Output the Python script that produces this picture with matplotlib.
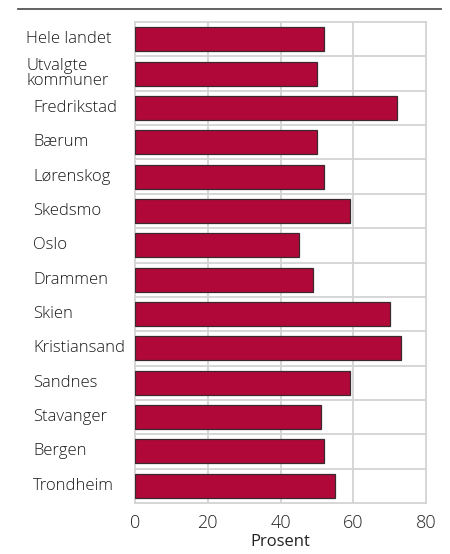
import matplotlib.pyplot as plt
import matplotlib.transforms as mtransforms
import numpy as np

plt.rcParams['font.family'] = ['Open Sans', 'DejaVu Sans']
plt.rcParams['font.weight'] = 'light'

categories = ["Hele landet", "Utvalgte\nkommuner", "Fredrikstad", "Bærum", "Lørenskog",
              "Skedsmo", "Oslo", "Drammen", "Skien", "Kristiansand", "Sandnes",
              "Stavanger", "Bergen", "Trondheim"]
values = [52, 50, 72, 50, 52, 59, 45, 49, 70, 73, 59, 51, 52, 55]
xticks = [0, 20, 40, 60, 80]

grid_col = "#d3d3d3"
bar_col = "#b00838"

fig = plt.figure(figsize=(4.5, 5.54), dpi=100)
ax = fig.add_axes([135 / 450, 1 - 503 / 554, 291 / 450, 481 / 554])

y = np.arange(len(categories))
ax.barh(y, values, height=0.7, color=bar_col, edgecolor="#3a2a30", linewidth=0.9, zorder=3)

ax.set_xlim(0, 80)
ax.set_ylim(len(categories) - 0.5, -0.5)
ax.set_xticks(xticks)
ax.set_xticklabels([str(t) for t in xticks], fontsize=13, color="#222222")
ax.tick_params(axis="x", length=0, pad=8)
ax.set_yticks([])

# grid: vertical at ticks, horizontal between categories
for t in xticks[1:-1]:
    ax.axvline(t, color=grid_col, linewidth=1.3, zorder=1)
for b in y[:-1] + 0.5:
    ax.axhline(b, color=grid_col, linewidth=1.3, zorder=1)
for s in ax.spines.values():
    s.set_color(grid_col)
    s.set_linewidth(1.3)

ax.set_xlabel("Prosent", fontsize=12, color="#222222", labelpad=1)

# category labels at fixed left positions
trans = mtransforms.blended_transform_factory(fig.transFigure, ax.transData)
for i, lab in enumerate(categories):
    xpos = 26 / 450 if i < 2 else 33 / 450
    ax.text(xpos, i, lab, transform=trans, ha="left", va="center",
            fontsize=12, color="#1a1a1a", linespacing=0.85)

# rule across the top
fig.add_artist(plt.Line2D([18 / 450, 441 / 450], [1 - 9 / 554, 1 - 9 / 554],
                          color="#555555", linewidth=1.3))

fig.savefig("out.png", dpi=100)
